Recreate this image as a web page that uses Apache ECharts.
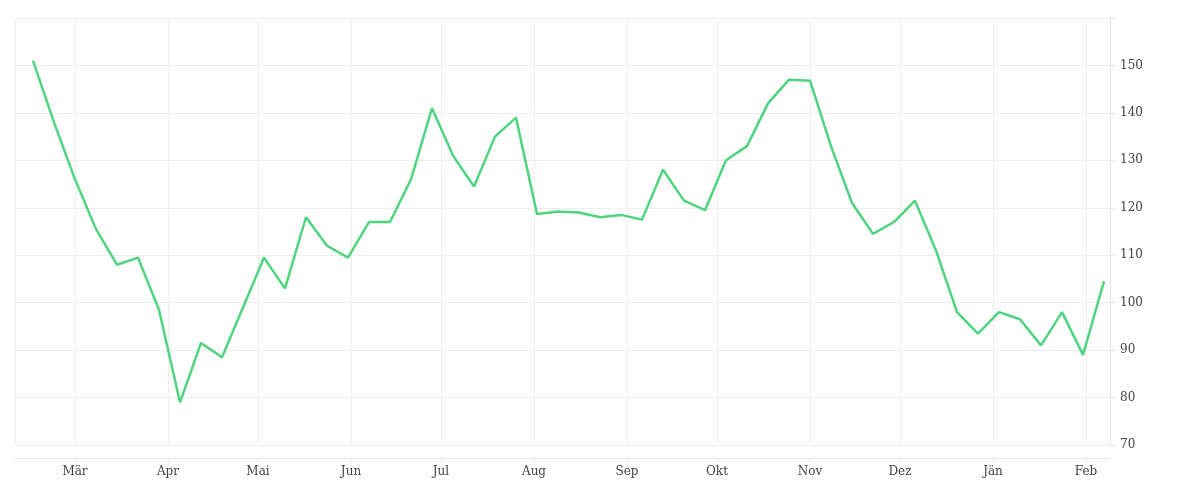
<!DOCTYPE html>
<html>
<head>
<meta charset="utf-8">
<script src="https://cdn.jsdelivr.net/npm/echarts@6/dist/echarts.min.js"></script>
<style>html,body{margin:0;background:#fff}#chart{width:1200px;height:500px}</style>
</head>
<body>
<div id="chart"></div>
<script>
const monthNames = ["Jän", "Feb", "Mär", "Apr", "Mai", "Jun", "Jul", "Aug", "Sep", "Okt", "Nov", "Dez"]
const startDate = "2021-02-15"
const values = [151, 138, 126, 115.5, 108, 109.5, 98.5, 79, 91.5, 88.5, 99, 109.5, 103, 118, 112, 109.5,
  117, 117, 126, 141, 131, 124.5, 135, 139, 118.7, 119.2, 119, 118, 118.5, 117.5, 128, 121.5, 119.5,
  130, 133, 142, 147, 146.8, 133, 121, 114.5, 117, 121.5, 111, 98, 93.5, 98, 96.5, 91, 98, 89, 104.5]

const week = 7 * 86400000
const t0 = new Date(startDate + "T00:00:00").getTime()
const points = values.map((v, i) => [t0 + i * week, v])

const chart = echarts.init(document.getElementById("chart"))
chart.setOption({
  animation: false,
  grid: {left: 15, right: 90, top: 18, bottom: 55},
  xAxis: {
    type: "time",
    min: new Date("2021-02-09T00:00:00").getTime(),
    max: new Date("2022-02-09T00:00:00").getTime(),
    offset: 13,
    splitNumber: 12,
    minInterval: 28 * 86400000,
    axisLine: {lineStyle: {color: "#e6e6e6"}},
    axisTick: {show: true, length: 5, lineStyle: {color: "#e6e6e6"}},
    axisLabel: {
      fontFamily: "DejaVu Serif", fontSize: 12, color: "#444",
      formatter: val => monthNames[new Date(val).getMonth()]
    },
    splitLine: {show: true, lineStyle: {color: "#eeeeee"}}
  },
  yAxis: {
    type: "value",
    position: "right",
    min: 70, max: 160, interval: 10,
    axisLine: {show: true, lineStyle: {color: "#e6e6e6"}},
    axisTick: {show: true, length: 5, lineStyle: {color: "#e6e6e6"}},
    axisLabel: {
      fontFamily: "DejaVu Serif", fontSize: 12, color: "#444", margin: 10,
      formatter: v => v === 160 ? "" : v
    },
    splitLine: {lineStyle: {color: "#eeeeee"}}
  },
  series: [{
    type: "line",
    data: points,
    showSymbol: false,
    lineStyle: {color: "#4fd47f", width: 2.5},
    itemStyle: {color: "#4fd47f"}
  }]
})
</script>
</body>
</html>
